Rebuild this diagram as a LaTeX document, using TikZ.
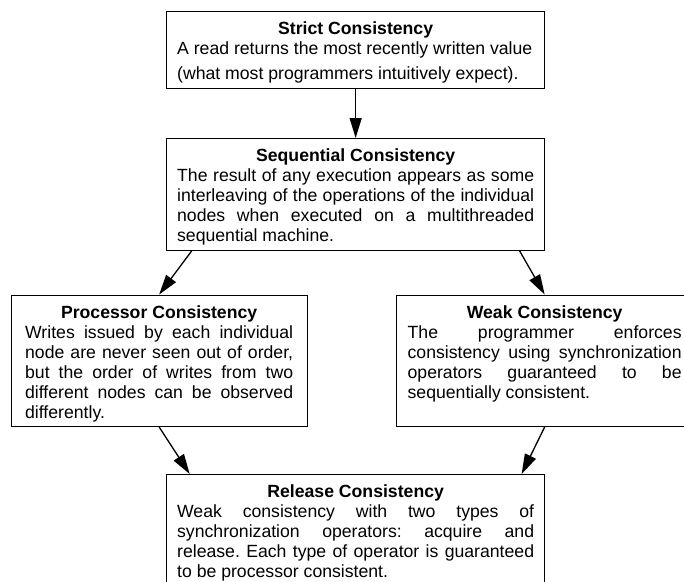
\documentclass[tikz,border=0pt]{standalone}
\usepackage{fontspec}
\setmainfont{Liberation Sans}
\usepackage{tikz}
\usetikzlibrary{arrows.meta,positioning}

\newcommand{\mtitle}[1]{\hspace*{\fill}\textbf{#1}\hspace*{\fill}\\}
\frenchspacing

\begin{document}
\begin{tikzpicture}[x=1pt,y=-1pt,->,>={Triangle[length=20pt,width=12pt]},line width=1.3pt,node distance=49pt]
\tikzstyle{model}=[draw=black,fill=white,rectangle,anchor=north west,inner xsep=10.5pt,inner ysep=0pt,text width=357pt,text height=23pt,align=justify,font=\fontsize{17.65pt}{20pt}\selectfont\frenchspacing]

\clip[use as bounding box] (0,0) rectangle (684,581);

\node[model,text depth=54pt]    (strict) at (166,10.7)     {\mtitle{Strict Consistency}A read returns the most recently written value\\[5pt](what most programmers intuitively expect).};
\node[model,text depth=88.6pt]  (seq)     [below=of strict] {\mtitle{Sequential Consistency}The result of any execution appears as some\linebreak interleaving of the operations of the individual\linebreak nodes when executed on a multithreaded\linebreak sequential machine.};
\node[model,text depth=108.2pt,text width=268pt,inner xsep=14pt] (proc) at (10.5,294.5) {\mtitle{Processor Consistency}Writes issued by each individual\linebreak node are never seen out of order,\linebreak but the order of writes from two\linebreak different nodes can be observed\linebreak differently.};
\node[model,text depth=108.2pt,text width=274pt,inner xsep=11pt] (weak) at (396,294.5) {\mtitle{Weak Consistency}The programmer enforces\linebreak consistency using synchronization\linebreak operators guaranteed to be\linebreak sequentially consistent.};
\node[model,text depth=90pt]    (release) at (166,474)     {\mtitle{Release Consistency}Weak consistency with two types of\linebreak synchronization operators: acquire and\linebreak release. Each type of operator is guaranteed\linebreak to be processor consistent.};

\path (strict) edge (seq);
\path (seq.199) edge (proc.north);
\path (seq.341) edge (weak.north);
\path (proc.south) edge (release.161);
\path (weak.south) edge (release.19);
\end{tikzpicture}
\end{document}
